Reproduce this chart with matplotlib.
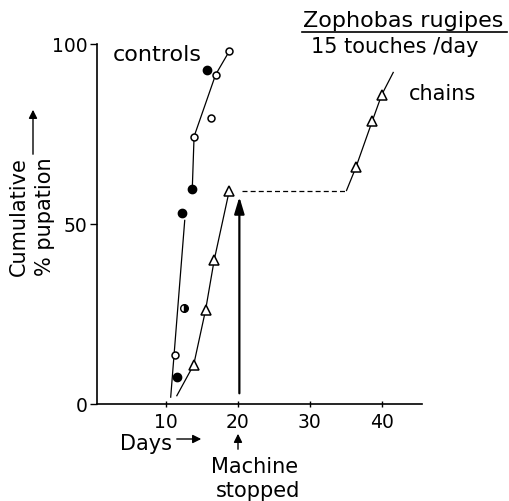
import matplotlib
matplotlib.use("Agg")
import matplotlib.pyplot as plt
from matplotlib.lines import Line2D
from matplotlib.patches import FancyArrowPatch

plt.rcParams['font.family'] = ['DejaVu Sans']

# controls (open and filled circles)
ctrl_open_x = [11.25, 13.9, 16.2, 16.9, 18.8]
ctrl_open_y = [13.7, 74.3, 79.4, 91.5, 98.0]
ctrl_fill_x = [11.5, 12.2, 13.65, 15.7]
ctrl_fill_y = [7.6, 53.0, 59.7, 92.8]
ctrl_half_x = [12.5]
ctrl_half_y = [26.6]
ctrl_line1_x = [10.65, 12.6]
ctrl_line1_y = [1.9, 51.0]
ctrl_line2_x = [13.65, 13.9, 16.9, 18.8]
ctrl_line2_y = [59.7, 74.3, 91.5, 98.0]

# chains (triangles)
chain_x = [13.85, 15.5, 16.7, 18.8, 36.4, 38.7, 40.0]
chain_y = [10.9, 26.1, 40.0, 59.3, 65.7, 78.7, 85.9]
chain_line1_x = [11.5, 13.85, 15.5, 16.7, 18.8]
chain_line1_y = [2.3, 10.9, 26.1, 40.0, 59.3]
plateau_x = [20.5, 35.1]
plateau_y = [59.3, 59.3]
chain_line2_x = [35.1, 36.4, 38.7, 40.0, 41.6]
chain_line2_y = [59.3, 65.7, 78.7, 85.9, 92.1]

machine_stop_day = 20.2
xticks = [10, 20, 30, 40]
yticks = [0, 50, 100]

fig = plt.figure(figsize=(5.09, 5.02), dpi=100)
ax = fig.add_axes([97 / 509, 1 - 405 / 502, 325 / 509, 360 / 502])

lw = 0.9
ax.plot(ctrl_line1_x, ctrl_line1_y, color='black', lw=lw, clip_on=False)
ax.plot(ctrl_line2_x, ctrl_line2_y, color='black', lw=lw, clip_on=False)
ax.plot(chain_line1_x, chain_line1_y, color='black', lw=lw, clip_on=False)
ax.plot(plateau_x, plateau_y, color='black', lw=lw, ls=(0, (4, 2.5)))
ax.plot(chain_line2_x, chain_line2_y, color='black', lw=lw, clip_on=False)

ax.plot(ctrl_open_x, ctrl_open_y, 'o', ms=5, mfc='white', mec='black', mew=1.1,
        clip_on=False, zorder=5)
ax.plot(ctrl_fill_x, ctrl_fill_y, 'o', ms=6, mfc='black', mec='black',
        clip_on=False, zorder=5)
ax.plot(ctrl_half_x, ctrl_half_y, 'o', ms=5.5, fillstyle='right', mfc='black',
        mfcalt='white', mec='black', mew=1.0, zorder=5)
ax.plot(chain_x, chain_y, '^', ms=6.5, mfc='white', mec='black', mew=1.1,
        clip_on=False, zorder=5)

# machine stopped arrow
ax.annotate('', xy=(machine_stop_day, 58.3), xytext=(machine_stop_day, 2.2),
            arrowprops=dict(arrowstyle='-|>,head_length=1.0,head_width=0.3',
                            color='black', lw=1.6))

ax.set_xlim(0.4, 45.6)
ax.set_ylim(0, 100)
ax.set_xticks(xticks)
ax.set_yticks(yticks)
ax.spines['top'].set_visible(False)
ax.spines['right'].set_visible(False)
ax.spines['left'].set_linewidth(1.2)
ax.spines['bottom'].set_linewidth(1.2)
ax.tick_params(axis='y', direction='out', length=5, width=1, labelsize=13.5, pad=2)
ax.tick_params(axis='x', direction='inout', length=5, width=1, labelsize=13.5, pad=3)

fs = 15
ax.text(2.6, 97.2, 'controls', fontsize=16, ha='left', va='center')
ax.text(43.8, 86.5, 'chains', fontsize=fs, ha='left', va='center', clip_on=False)

fig.text(303 / 509, 1 - 21 / 502, 'Zophobas rugipes', fontsize=16, ha='left', va='center')
fig.add_artist(Line2D([302 / 509, 507 / 509], [1 - 33 / 502, 1 - 33 / 502],
                      transform=fig.transFigure, color='black', lw=1.2))
fig.text(311 / 509, 1 - 47 / 502, '15 touches /day', fontsize=fs, ha='left', va='center')

# x label with arrow
fig.text(120 / 509, 1 - 444 / 502, 'Days', fontsize=fs, ha='left', va='center')
fig.add_artist(FancyArrowPatch(
    (174 / 509, 1 - 440 / 502), (204 / 509, 1 - 440 / 502),
    transform=fig.transFigure, arrowstyle='-|>,head_length=5,head_width=2.5',
    color='black', lw=1.0))

# machine stopped label
fig.add_artist(FancyArrowPatch(
    (238 / 509, 1 - 453 / 502), (238 / 509, 1 - 432 / 502),
    transform=fig.transFigure, arrowstyle='-|>,head_length=5,head_width=2.5',
    color='black', lw=1.0))
fig.text(255 / 509, 1 - 467 / 502, 'Machine', fontsize=fs, ha='center', va='center')
fig.text(258 / 509, 1 - 491 / 502, 'stopped', fontsize=fs, ha='center', va='center')

# y label with arrow
fig.text(19 / 509, 1 - 217 / 502, 'Cumulative', fontsize=fs, rotation=90,
         ha='center', va='center')
fig.text(45 / 509, 1 - 217 / 502, '% pupation', fontsize=fs, rotation=90,
         ha='center', va='center')
fig.add_artist(FancyArrowPatch(
    (33 / 509, 1 - 158 / 502), (33 / 509, 1 - 108 / 502),
    transform=fig.transFigure, arrowstyle='-|>,head_length=5,head_width=2.5',
    color='black', lw=1.0))

fig.savefig('out.png', dpi=100)
